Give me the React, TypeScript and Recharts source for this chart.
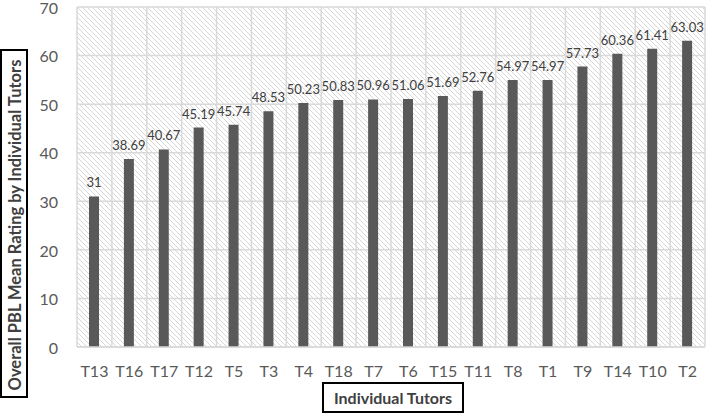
import React from "react";
import { BarChart, Bar, XAxis, YAxis, CartesianGrid, LabelList } from "recharts";

const tutors = ["T13","T16","T17","T12","T5","T3","T4","T18","T7","T6","T15","T11","T8","T1","T9","T14","T10","T2"];
const ratings = [31,38.69,40.67,45.19,45.74,48.53,50.23,50.83,50.96,51.06,51.69,52.76,54.97,54.97,57.73,60.36,61.41,63.03];
const yTicks = [0,10,20,30,40,50,60,70];
const xTitle = "Individual Tutors";
const yTitle = "Overall PBL Mean Rating by Individual Tutors";

const data = tutors.map((t, i) => ({ tutor: t, rating: ratings[i] }));

const FONT = "Lato, 'Open Sans', sans-serif";

export default function App() {
  const n = tutors.length;
  return (
    <div style={{ position: "absolute", left: 0, top: 0, width: 710, height: 413, background: "#fff" }}>
      <svg width={0} height={0} style={{ position: "absolute" }}>
        <defs>
          <pattern id="hatch" patternUnits="userSpaceOnUse" width={5} height={5}>
            <rect width={5} height={5} fill="#ffffff" />
            <path d="M-1,-1 L6,6 M-1,4 L1,6 M4,-1 L6,1" stroke="#d6d6d6" strokeWidth={1} />
          </pattern>
        </defs>
      </svg>
      <BarChart
        width={710}
        height={413}
        data={data}
        margin={{ top: 7, right: 5, left: 0, bottom: 0 }}
        barCategoryGap={0}
      >
        <CartesianGrid
          fill="url(#hatch)"
          fillOpacity={1}
          stroke="#d9d9d9"
          strokeWidth={1.5}
          verticalCoordinatesGenerator={({ offset }: any) =>
            Array.from({ length: n + 1 }, (_, i) => offset.left + (i * offset.width) / n)
          }
        />
        <XAxis
          dataKey="tutor"
          height={66}
          tickLine={false}
          axisLine={{ stroke: "#d9d9d9", strokeWidth: 1.5 }}
          tick={{ fill: "#595959", fontSize: 16, fontFamily: FONT }}
          tickMargin={13}
          interval={0}
        />
        <YAxis
          width={77}
          domain={[0, 70]}
          ticks={yTicks}
          tickLine={false}
          tickSize={0}
          axisLine={false}
          tick={{ fill: "#595959", fontSize: 16, fontFamily: FONT, dy: 1 }}
          tickMargin={19}
          interval={0}
        />
        <Bar dataKey="rating" fill="#595959" barSize={10} isAnimationActive={false}>
          <LabelList
            dataKey="rating"
            position="top"
            offset={9}
            style={{ fill: "#404040", fontSize: 13, fontFamily: FONT }}
          />
        </Bar>
      </BarChart>
      <svg width={710} height={413} style={{ position: "absolute", left: 0, top: 0, pointerEvents: "none" }}>
        <rect x={1} y={50} width={26} height={347} fill="#fff" stroke="#000" strokeWidth={2} />
        <text
          x={14.5}
          y={225}
          transform="rotate(-90 14.5 225)"
          textAnchor="middle"
          dominantBaseline="central"
          fontFamily={FONT}
          fontWeight="bold"
          fontSize={16.5}
          fill="#404040"
        >
          {yTitle}
        </text>
        <rect x={323} y={383} width={140} height={29} fill="#fff" stroke="#000" strokeWidth={2} />
        <text
          x={393}
          y={397.5}
          textAnchor="middle"
          dominantBaseline="central"
          fontFamily={FONT}
          fontWeight="bold"
          fontSize={16}
          fill="#404040"
        >
          {xTitle}
        </text>
      </svg>
    </div>
  );
}
